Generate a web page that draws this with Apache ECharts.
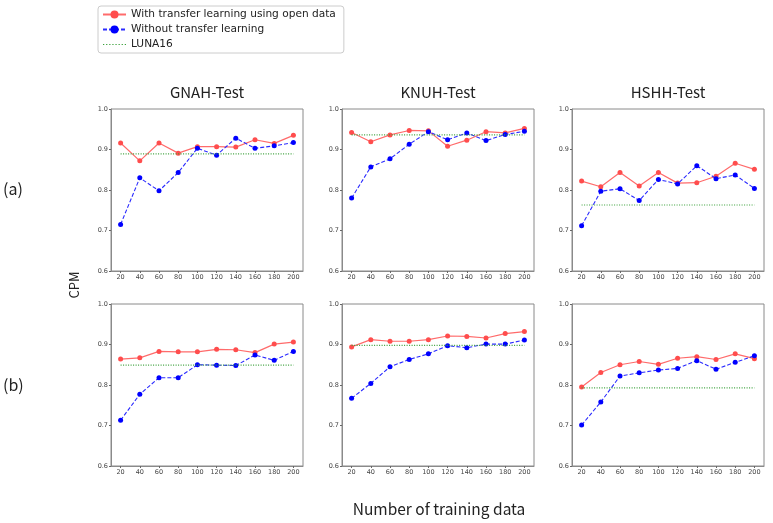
<!DOCTYPE html>
<html><head><meta charset="utf-8">
<script src="https://cdn.jsdelivr.net/npm/echarts@6/dist/echarts.min.js"></script>
<style>html,body{margin:0;padding:0;background:#fff}#c{width:773px;height:523px}</style>
</head><body><div id="c"></div>
<script>
var xLabels = ['20','40','60','80','100','120','140','160','180','200'];
var panelTitles = ['GNAH-Test','KNUH-Test','HSHH-Test'];
var rowLabels = ['(a)','(b)'];
var yTicks = [0.6, 0.7, 0.8, 0.9, 1.0];
var seriesNames = ['With transfer learning using open data','Without transfer learning','LUNA16'];

var gnahA_with    = [0.916,0.872,0.916,0.891,0.907,0.907,0.906,0.924,0.915,0.935];
var gnahA_without = [0.715,0.830,0.798,0.843,0.903,0.886,0.928,0.903,0.909,0.917];
var knuhA_with    = [0.942,0.919,0.936,0.947,0.946,0.908,0.923,0.944,0.941,0.952];
var knuhA_without = [0.780,0.857,0.877,0.913,0.944,0.924,0.941,0.922,0.937,0.945];
var hshhA_with    = [0.822,0.808,0.843,0.810,0.843,0.817,0.818,0.834,0.866,0.851];
var hshhA_without = [0.712,0.797,0.803,0.774,0.826,0.815,0.860,0.828,0.837,0.804];
var gnahB_with    = [0.864,0.867,0.883,0.882,0.882,0.888,0.887,0.880,0.901,0.906];
var gnahB_without = [0.713,0.777,0.818,0.818,0.850,0.849,0.848,0.874,0.861,0.883];
var knuhB_with    = [0.894,0.912,0.908,0.908,0.912,0.921,0.920,0.916,0.927,0.932];
var knuhB_without = [0.767,0.804,0.845,0.863,0.877,0.897,0.892,0.901,0.901,0.911];
var hshhB_with    = [0.795,0.831,0.850,0.858,0.851,0.866,0.870,0.863,0.877,0.865];
var hshhB_without = [0.701,0.758,0.822,0.830,0.837,0.841,0.860,0.839,0.856,0.872];
var lunaValues    = [0.889, 0.936, 0.763, 0.849, 0.898, 0.793];

var withData = [gnahA_with, knuhA_with, hshhA_with, gnahB_with, knuhB_with, hshhB_with];
var withoutData = [gnahA_without, knuhA_without, hshhA_without, gnahB_without, knuhB_without, hshhB_without];

var colLeft = [111, 342, 572];
var colWidth = 192;
var rowTop = [109, 304];
var rowHeight = 162;

var grids = [], xAxes = [], yAxes = [], series = [];
for (var i = 0; i < 6; i++) {
  var r = Math.floor(i / 3), c = i % 3;
  grids.push({left: colLeft[c], top: rowTop[r], width: colWidth, height: rowHeight,
    show: true, borderColor: '#8a8a8a', borderWidth: 1, backgroundColor: 'transparent'});
  xAxes.push({type: 'category', gridIndex: i, data: xLabels, boundaryGap: true,
    axisLine: {show: true, lineStyle: {color: '#8a8a8a', width: 1}},
    axisTick: {show: true, alignWithLabel: true, length: 2, lineStyle: {color: '#666'}},
    axisLabel: {fontSize: 6.5, color: '#444', margin: 3, fontFamily: 'DejaVu Sans', interval: 0},
    splitLine: {show: false}});
  yAxes.push({type: 'value', gridIndex: i, min: 0.6, max: 1.0, interval: 0.1,
    axisLine: {show: true, lineStyle: {color: '#8a8a8a', width: 1}},
    axisTick: {show: true, length: 2, lineStyle: {color: '#666'}},
    axisLabel: {fontSize: 6.5, color: '#444', margin: 3, fontFamily: 'DejaVu Sans',
      formatter: function (v) { return v.toFixed(1); }},
    splitLine: {show: false}});
  series.push({name: seriesNames[0], type: 'line', xAxisIndex: i, yAxisIndex: i,
    data: withData[i], symbol: 'circle', symbolSize: 5, showSymbol: true,
    lineStyle: {color: '#ff6b6b', width: 1.2, type: 'solid'},
    itemStyle: {color: '#ff4d4d'}, z: 2, animation: false});
  series.push({name: seriesNames[1], type: 'line', xAxisIndex: i, yAxisIndex: i,
    data: withoutData[i], symbol: 'circle', symbolSize: 5, showSymbol: true,
    lineStyle: {color: '#2b2bff', width: 1.1, type: [4, 2]},
    itemStyle: {color: '#0000ff'}, z: 3, animation: false});
  series.push({name: seriesNames[2], type: 'line', xAxisIndex: i, yAxisIndex: i,
    data: [[xLabels[0], lunaValues[i]], [xLabels[xLabels.length - 1], lunaValues[i]]],
    symbol: 'none', showSymbol: false,
    lineStyle: {color: '#3aa03a', width: 1.2, type: [1, 1.5]},
    itemStyle: {color: '#3aa03a'}, z: 4, animation: false});
}

var dotIcon = 'path://M0,0h1.2v1.2h-1.2z M3,0h1.2v1.2h-1.2z M6,0h1.2v1.2h-1.2z M9,0h1.2v1.2h-1.2z M12,0h1.2v1.2h-1.2z M15,0h1.2v1.2h-1.2z M18,0h1.2v1.2h-1.2z M21,0h1.2v1.2h-1.2z';

var graphics = [];
for (var c = 0; c < 3; c++) {
  graphics.push({type: 'text', x: colLeft[c] + colWidth / 2, y: 92.5,
    style: {text: panelTitles[c], fontSize: 15, fontFamily: 'Noto Sans CJK KR', fill: '#222', textAlign: 'center', textVerticalAlign: 'middle'}});
}
graphics.push({type: 'text', x: 3, y: 189, style: {text: rowLabels[0], fontSize: 16, fontFamily: 'Noto Sans CJK KR', fill: '#222', textVerticalAlign: 'middle'}});
graphics.push({type: 'text', x: 3, y: 385, style: {text: rowLabels[1], fontSize: 16, fontFamily: 'Noto Sans CJK KR', fill: '#222', textVerticalAlign: 'middle'}});
graphics.push({type: 'text', x: 74, y: 285, rotation: Math.PI / 2,
  style: {text: 'CPM', fontSize: 13, fontFamily: 'Noto Sans CJK KR', fill: '#222', textAlign: 'center', textVerticalAlign: 'middle'}});
graphics.push({type: 'text', x: 439, y: 509, style: {text: 'Number of training data', fontSize: 15.5, fontFamily: 'Noto Sans CJK KR', fill: '#222', textAlign: 'center', textVerticalAlign: 'middle'}});

var chart = echarts.init(document.getElementById('c'), null, {renderer: 'canvas'});
chart.setOption({
  animation: false,
  backgroundColor: '#fff',
  grid: grids, xAxis: xAxes, yAxis: yAxes, series: series,
  legend: {data: [seriesNames[0], seriesNames[1], {name: seriesNames[2], icon: dotIcon}],
    orient: 'vertical', left: 98, top: 6,
    padding: [3, 8, 3, 4], itemGap: 4, itemWidth: 23, itemHeight: 10,
    borderColor: '#cccccc', borderWidth: 1, borderRadius: 3, backgroundColor: '#fff',
    textStyle: {fontSize: 10.6, fontFamily: 'DejaVu Sans', color: '#222'}},
  graphic: graphics
});
</script></body></html>
